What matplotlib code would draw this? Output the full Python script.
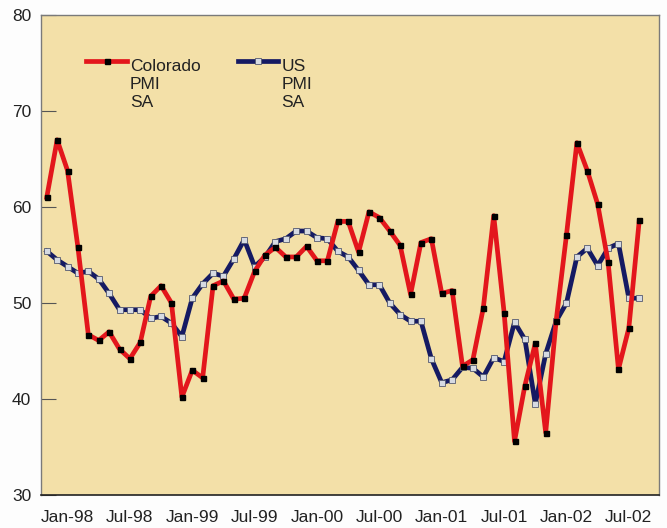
import matplotlib
matplotlib.use("Agg")
import matplotlib.pyplot as plt
from matplotlib.lines import Line2D
import numpy as np
import pandas as pd

# ── Data: monthly PMI, Nov-97 .. Aug-02 ──────────────────────────────
colorado = [61.0, 67.0, 63.8, 55.8, 46.7, 46.1, 47.0, 45.2, 44.2, 45.9,
            50.7, 51.8, 50.0, 40.2, 43.0, 42.2, 51.8, 52.3, 50.4, 50.5,
            53.3, 55.0, 55.8, 54.8, 54.8, 55.9, 54.4, 54.4, 58.5, 58.5,
            55.3, 59.5, 58.9, 57.5, 56.0, 50.9, 56.3, 56.7, 51.0, 51.3,
            43.4, 44.1, 49.5, 59.1, 49.0, 35.6, 41.4, 45.8, 36.5, 48.1,
            57.1, 66.7, 63.8, 60.3, 54.3, 43.1, 47.4, 58.6]
us = [55.4, 54.5, 53.8, 53.1, 53.3, 52.5, 51.0, 49.3, 49.3, 49.3,
      48.4, 48.6, 47.9, 46.5, 50.5, 52.0, 53.1, 52.8, 54.6, 56.6,
      53.8, 54.8, 56.4, 56.7, 57.5, 57.5, 56.8, 56.7, 55.4, 54.8,
      53.4, 51.9, 51.9, 50.0, 48.8, 48.1, 48.1, 44.2, 41.7, 42.0,
      43.3, 43.2, 42.3, 44.3, 43.9, 48.0, 46.2, 39.5, 44.7, 48.1,
      50.0, 54.8, 55.7, 53.9, 55.7, 56.2, 50.5, 50.5]
months = pd.date_range("1997-11-01", periods=len(colorado), freq="MS")
series_labels = ["Colorado\nPMI\nSA", "US\nPMI\nSA"]

x = np.arange(len(months))
tick_pos = [i for i, m in enumerate(months) if m.month in (1, 7)]
tick_labels = [months[i].strftime("%b-%y") for i in tick_pos]

# ── Colours / styles ─────────────────────────────────────────────────
RED = "#E3161C"
NAVY = "#151A63"
PANEL = "#F3E0A8"
TEXT = "#222222"

red_style = dict(color=RED, linewidth=3.4, marker="s", markersize=3.6,
                 markerfacecolor="black", markeredgecolor="black",
                 solid_joinstyle="round")
navy_style = dict(color=NAVY, linewidth=3.4, marker="s", markersize=4.2,
                  markerfacecolor="#D6DAE2", markeredgecolor="#555A70",
                  markeredgewidth=0.6, solid_joinstyle="round")

plt.rcParams["font.family"] = ["Liberation Sans", "DejaVu Sans"]

fig = plt.figure(figsize=(6.67, 5.28), dpi=100)
fig.patch.set_facecolor("#FDFDFD")
ax = fig.add_axes([0.0615, 0.0625, 0.9265, 0.909])
ax.set_facecolor(PANEL)

ax.plot(x, colorado, zorder=3, **red_style)
ax.plot(x, us, zorder=2, **navy_style)

# ── Axes styling ─────────────────────────────────────────────────────
ax.set_xlim(-0.55, 58.9)
ax.set_ylim(30, 80)
ax.set_yticks([30, 40, 50, 60, 70, 80])
ax.set_xticks(tick_pos)
ax.set_xticklabels(tick_labels)
ax.tick_params(axis="y", direction="in", length=11, width=0.8, color="#555555",
               pad=7, labelsize=12.5, labelcolor=TEXT)
ax.tick_params(axis="x", length=0, pad=11, labelsize=12.5, labelcolor=TEXT)

for side in ["top", "right", "left"]:
    ax.spines[side].set_color("#7A7A7A")
    ax.spines[side].set_linewidth(1.0)
ax.spines["bottom"].set_color("#222222")
ax.spines["bottom"].set_linewidth(1.2)

# ── Legend (handle sits level with the first text line) ──────────────
for x0, style, label in [(0.073, red_style, series_labels[0]),
                         (0.318, navy_style, series_labels[1])]:
    handle = Line2D([x0, x0 + 0.033, x0 + 0.066], [0.904] * 3,
                    transform=ax.transAxes, markevery=[1], **style)
    ax.add_line(handle)
    ax.text(x0 + 0.071, 0.909, label, transform=ax.transAxes,
            ha="left", va="top", fontsize=12.5, color=TEXT, linespacing=1.25)

fig.savefig("out.png", dpi=100, facecolor=fig.get_facecolor())
